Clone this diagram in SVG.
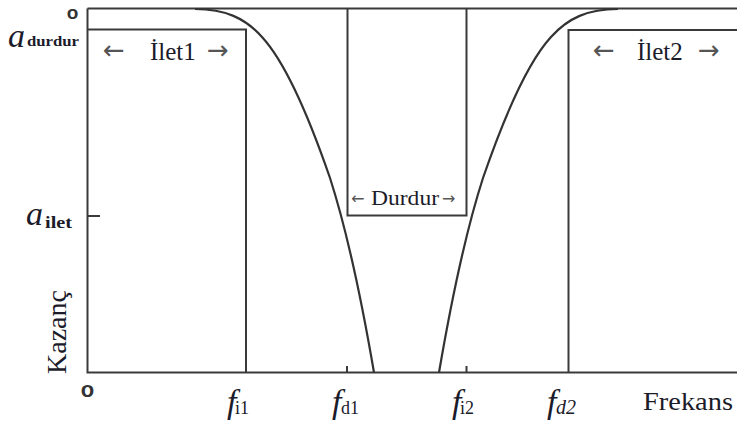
<svg xmlns="http://www.w3.org/2000/svg" width="737" height="426" viewBox="0 0 737 426">
<style>
.ln{fill:none;stroke:#3a3a3a;stroke-width:2}
.cv{fill:none;stroke:#333;stroke-width:2.2}
.t{font-family:"Liberation Serif","Times New Roman",serif;fill:#1b1b2a}
.it{font-style:italic}
.arr{font-family:"DejaVu Sans",sans-serif;fill:#555}
.o{font-family:"Liberation Sans",Arial,sans-serif;font-weight:bold;fill:#333}
</style>
<rect width="737" height="426" fill="#fff"/>
<g id="axes">
<path class="ln" d="M87.5,8.5 H737 M87.5,8.5 V372.5 H737 M87.5,216 H100 M347,372.5 V366 M466.5,372.5 V366"/>
<text class="o" x="72.5" y="19" font-size="19" text-anchor="middle">o</text>
<text class="o" x="87.5" y="397" font-size="22" text-anchor="middle">o</text>
<text class="t" transform="translate(66,374) rotate(-90)" font-size="28">Kazanç</text>
<text class="t" x="643" y="410" font-size="25" textLength="90" lengthAdjust="spacingAndGlyphs">Frekans</text>
</g>
<g id="a-durdur">
<text class="t it" x="8" y="47" font-size="34">a</text>
<text class="t" x="27" y="46" font-size="14" font-weight="bold" textLength="52" lengthAdjust="spacingAndGlyphs">durdur</text>
</g>
<g id="a-ilet">
<text class="t it" x="26" y="225" font-size="34">a</text>
<text class="t" x="45" y="228" font-size="16" font-weight="bold" textLength="27" lengthAdjust="spacingAndGlyphs">ilet</text>
</g>
<g id="ilet1">
<path class="ln" d="M87.5,29.5 H246 V372.5"/>
<text class="arr" x="103" y="59" font-size="26" fill="#666">←</text>
<text class="t" x="150" y="60" font-size="25">İlet1</text>
<text class="arr" x="207" y="59" font-size="26" fill="#666">→</text>
</g>
<g id="durdur">
<path class="ln" d="M347.5,8.5 V215.5 H466.5 V8.5"/>
<text class="arr" x="351" y="204" font-size="16" fill="#777">←</text>
<text class="t" x="371" y="205" font-size="21" textLength="68" lengthAdjust="spacingAndGlyphs">Durdur</text>
<text class="arr" x="442" y="204" font-size="16" fill="#777">→</text>
</g>
<g id="ilet2">
<path class="ln" d="M737,30 H568.5 V372.5"/>
<text class="arr" x="593" y="59" font-size="26" fill="#666">←</text>
<text class="t" x="637" y="60" font-size="25">İlet2</text>
<text class="arr" x="698" y="59" font-size="26" fill="#666">→</text>
</g>
<g id="curves">
<path class="cv" d="M195,9 C225,9 245,18 262,37 C285,62 310,120 330,178 C350,240 365,320 374,372.5"/>
<path class="cv" d="M618,9 C588,9 568,18 551,37 C528,62 503,120 483,178 C463,240 448,320 439,372.5"/>
</g>
<g id="freq-labels">
<text class="t it" x="227" y="413" font-size="34">f</text>
<text class="t" x="235" y="414" font-size="18">i1</text>
<text class="t it" x="332" y="413" font-size="34">f</text>
<text class="t" x="341" y="414" font-size="18">d1</text>
<text class="t it" x="452" y="413" font-size="34">f</text>
<text class="t" x="460" y="414" font-size="18">i2</text>
<text class="t it" x="547" y="413" font-size="34">f</text>
<text class="t it" x="556" y="414" font-size="20">d2</text>
</g>
</svg>
